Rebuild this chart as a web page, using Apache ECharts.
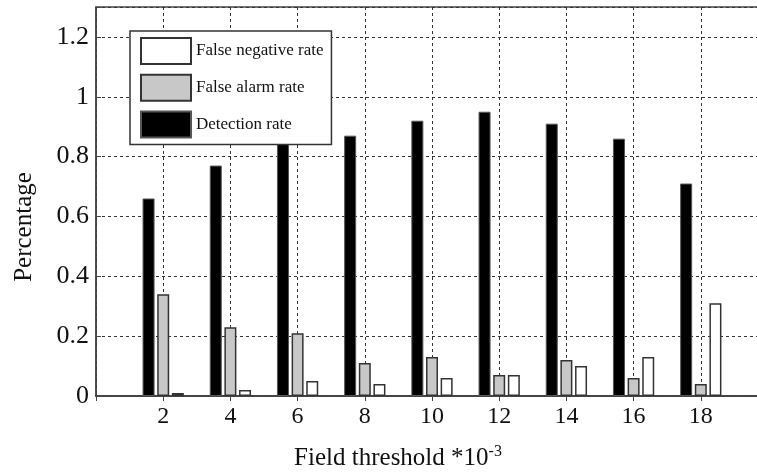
<!DOCTYPE html>
<html>
<head>
<meta charset="utf-8">
<script src="https://cdn.jsdelivr.net/npm/echarts@6/dist/echarts.min.js"></script>
<style>
  html, body { margin: 0; padding: 0; background: #fff; overflow: hidden; }
  /* 图比窗口宽，右边框落在窗口外（与原图一致） */
  .chart { width: 790px; height: 472px; }
</style>
</head>
<body>
<div class="chart"></div>
<script>
// 阈值（x轴，单位 10^-3）
var thresholds = [2, 4, 6, 8, 10, 12, 14, 16, 18];
var detectionRate = [0.66, 0.77, 0.85, 0.87, 0.92, 0.95, 0.91, 0.86, 0.71];
var falseAlarmRate = [0.34, 0.23, 0.21, 0.11, 0.13, 0.07, 0.12, 0.06, 0.04];
var falseNegativeRate = [0.01, 0.02, 0.05, 0.04, 0.06, 0.07, 0.10, 0.13, 0.31];
var yTicks = [0, 0.2, 0.4, 0.6, 0.8, 1, 1.2];

var serif = "Liberation Serif";
var ink = "#111";

function pairs(vals) {
    return thresholds.map(function (t, i) { return [t, vals[i]]; });
}

var myChart = echarts.init(document.querySelector(".chart"));
var option = {
    animation: false,
    textStyle: { fontFamily: serif, color: ink },
    grid: {
        left: 96, right: 22, top: 7, bottom: 76,
        show: true, borderColor: "#444", borderWidth: 1.5, backgroundColor: "#fff"
    },
    legend: {
        orient: "vertical",
        left: 130, top: 31,
        padding: [6, 8, 6, 10],
        itemWidth: 50, itemHeight: 26, itemGap: 8.7,
        backgroundColor: "#fff",
        borderColor: "#333", borderWidth: 1.5, borderRadius: 0,
        icon: "rect",
        textStyle: { fontFamily: serif, fontSize: 17, color: ink },
        data: ["False negative rate", "False alarm rate", "Detection rate"]
    },
    xAxis: [{
        type: "value", min: 0, max: 20, interval: 2,
        axisLine: { show: true, onZero: false, lineStyle: { color: "#444", width: 1.5 } },
        axisTick: { show: true, inside: true, length: 5, lineStyle: { color: "#444" } },
        axisLabel: {
            fontFamily: serif, fontSize: 24, color: ink, margin: 9,
            formatter: function (v) { return thresholds.indexOf(v) >= 0 ? String(v) : ""; }
        },
        splitLine: { show: true, lineStyle: { color: "#333", type: [3, 3], width: 1 } }
    }, {
        type: "value", min: 0, max: 20, interval: 2, position: "top",
        axisLine: { show: true, lineStyle: { color: "#444", width: 1.5 } },
        axisTick: { show: true, inside: true, length: 5, lineStyle: { color: "#444" } },
        axisLabel: { show: false },
        splitLine: { show: false }
    }],
    yAxis: {
        type: "value", min: 0, max: 1.3, interval: 0.2,
        axisLine: { show: true, lineStyle: { color: "#444", width: 1.5 } },
        axisTick: { show: true, inside: true, length: 5, lineStyle: { color: "#444" } },
        axisLabel: {
            fontFamily: serif, fontSize: 26, color: ink, margin: 7,
            formatter: function (v) {
                var hit = yTicks.filter(function (t) { return Math.abs(t - v) < 1e-6; });
                return hit.length ? String(hit[0]) : "";
            }
        },
        splitLine: { show: true, lineStyle: { color: "#333", type: [3, 3], width: 1 } }
    },
    graphic: [{
        type: "text",
        x: 24, y: 227, rotation: Math.PI / 2,
        style: {
            text: "Percentage", fill: ink,
            font: "25px 'Liberation Serif'",
            align: "center", verticalAlign: "middle"
        }
    }, {
        type: "text",
        x: 398, y: 458,
        style: {
            text: "{a|Field threshold *10}{b|-3}",
            align: "center", verticalAlign: "middle",
            rich: {
                a: { fontFamily: serif, fontSize: 25, fill: ink, color: ink },
                b: { fontFamily: serif, fontSize: 16, fill: ink, color: ink, verticalAlign: "top", padding: [0, 0, 12, 0] }
            }
        }
    }],
    series: [{
        name: "Detection rate", type: "bar",
        barWidth: 12, barGap: "22%",
        itemStyle: { color: "#000", borderColor: "#555", borderWidth: 1 },
        data: pairs(detectionRate)
    }, {
        name: "False alarm rate", type: "bar",
        barWidth: 12, barGap: "22%",
        itemStyle: { color: "#c8c8c8", borderColor: "#333", borderWidth: 1.5 },
        data: pairs(falseAlarmRate)
    }, {
        name: "False negative rate", type: "bar",
        barWidth: 12, barGap: "22%",
        itemStyle: { color: "#fff", borderColor: "#333", borderWidth: 1.5 },
        data: pairs(falseNegativeRate)
    }]
};
myChart.setOption(option);
</script>
</body>
</html>
